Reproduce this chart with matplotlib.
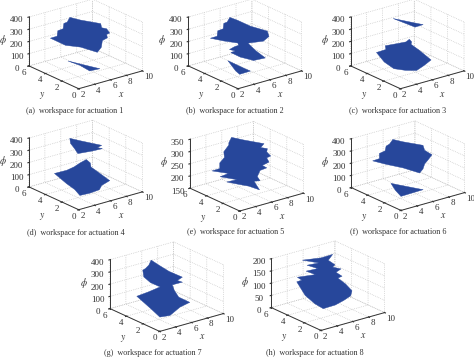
#!/usr/bin/env python3

import matplotlib
matplotlib.use('Agg')
import matplotlib.pyplot as plt
from mpl_toolkits.mplot3d.art3d import Poly3DCollection

# workspace outlines: x, y, phi per vertex
a_top_x = [4.99, 6.34, 8.87, 8.99, 9.62, 10.0, 9.62, 9.71, 9.08, 8.95, 8.45, 6.34, 4.45, 2.55, 3.39, 3.48, 4.15, 4.24, 4.66]
a_top_y = [4] * 19
a_top_phi = [409, 362, 287, 251, 231, 189, 185, 155, 145, 92, 60, 141, 190, 283, 284, 327, 331, 373, 376]
a_low_x = [2.16, 6.16, 4.89, 3.63]
a_low_y = [1.5] * 4
a_low_phi = [181, 45, 50, 120]

b_top_x = [5.08, 6.0, 7.69, 9.79, 10.0, 9.29, 7.35, 7.24, 8.50, 7.03, 5.34, 4.17, 4.71, 4.0, 4.59, 5.13, 6.09, 4.32, 2.64, 3.48, 3.56, 4.24, 4.32, 4.74]
b_top_y = [4, 4, 4, 4, 4, 4, 4, 3, 3, 3, 3, 3, 3, 3, 3, 3, 4, 4, 4, 4, 4, 4, 4, 4]
b_top_phi = [407, 368, 287, 209, 161, 136, 155, 129, 44, 50, 109, 167, 170, 195, 206, 209, 179, 228, 281, 282, 325, 329, 372, 375]
b_low_x = [2.24, 4.35, 5.06, 3.71, 3.21]
b_low_y = [1.5] * 5
b_low_phi = [182, 79, 46, 44, 81]

c_top_x = [6.25, 10.0, 8.99]
c_top_y = [5] * 3
c_top_phi = [345, 227, 225]
c_low_x = [2.06, 3.24, 3.16, 4.71, 5.77, 6.19, 6.48, 6.40, 7.45, 8.92, 7.0, 6.06, 4.68, 3.2, 3.03]
c_low_y = [3, 3, 3, 3, 3, 3, 3, 3, 3, 3, 2, 2, 2, 2, 3]
c_low_phi = [206, 209, 241, 231, 225, 239, 212, 194, 125, 20, 41, 17, 43, 84, 111]

d_top_x = [4.99, 6.34, 8.99, 8.45, 9.08, 7.81, 6.0, 5.58, 5.08]
d_top_y = [4] * 9
d_top_phi = [409, 364, 279, 270, 250, 254, 266, 315, 366]
d_low_x = [2.02, 3.58, 4.5, 5.26, 6.02, 6.52, 6.61, 7.79, 8.96, 6.91, 6.61, 5.43, 4.17, 3.54, 2.49]
d_low_y = [3, 3, 3, 3, 3, 3, 3, 3, 3, 2, 2, 2, 2, 2, 2]
d_low_phi = [207, 205, 216, 235, 248, 211, 176, 99, 22, 51, 21, 15, 19, 78, 147]

e_top_x = [5.08, 6.63, 9.16, 8.74, 9.58, 9.5, 10.0, 9.5, 9.79, 8.95, 9.5, 8.66, 8.32, 8.66, 7.9, 7.03, 6.19, 4.92, 3.45, 4.71, 2.61, 3.66, 2.64, 3.6, 3.6, 4.19, 4.11, 4.74, 4.74]
e_top_y = [4, 4, 4, 4, 4, 4, 4, 4, 4, 4, 4, 4, 4, 4, 4, 2.5, 3, 3, 3, 3, 3, 3, 4, 4, 4, 4, 4, 4, 4]
e_top_phi = [363, 338, 300, 288, 276, 263, 242, 239, 219, 213, 198, 195, 173, 153, 158, 154, 169, 188, 211, 209, 240, 244, 248, 249, 272, 289, 313, 335, 344]

f_top_x = [5.08, 6.34, 8.87, 9.08, 10.0, 9.5, 9.08, 8.87, 8.45, 6.34, 4.24, 2.55, 3.39, 3.39, 4.11, 4.24, 4.66]
f_top_y = [4] * 17
f_top_phi = [404, 362, 287, 242, 189, 156, 131, 94, 68, 149, 216, 275, 278, 320, 329, 365, 374]
f_low_x = [2.24, 6.28, 3.5, 2.79]
f_low_y = [1.5] * 4
f_low_phi = [174, 49, 45, 108]

g_top_x = [5.03, 6.0, 7.27, 8.95, 8.32, 8.95, 7.69, 6.9, 7.45, 8.84, 6.57, 5.31, 4.04, 2.99, 2.19, 3.66, 5.13, 4.95, 4.11, 3.98, 4.32, 4.74]
g_top_y = [4, 4, 4, 4, 4, 4, 4, 3, 3, 3, 2, 2, 2, 2, 3, 3, 3, 4, 4, 4, 4, 4]
g_top_phi = [408, 349, 275, 197, 181, 156, 157, 157, 92, 24, 57, 12, 22, 105, 195, 204, 218, 225, 287, 345, 352, 372]

h_top_x = [4.82, 7.14, 8.61, 8.06, 8.90, 8.61, 9.66, 9.03, 9.79, 8.23, 9.2, 10.0, 9.83, 7.91, 6.86, 4.3, 3.24, 3.07, 2.02, 2.65, 2.10, 5.41, 4.24, 5.71, 4.36, 5.83]
h_top_y = [5, 5, 5, 5, 5, 5, 5, 5, 5, 4, 4, 4, 4, 3, 3, 2, 2, 3, 3, 3, 3, 4, 4, 4, 4, 4]
h_top_phi = [186, 174, 175, 156, 130, 123, 106, 98, 75, 97, 64, 29, 10, 24, 15, 39, 69, 89, 154, 155, 172, 137, 162, 159, 185, 181]

x_ticks = [2, 4, 6, 8, 10]
y_ticks = [0, 2, 4, 6]
phi_ticks = [0, 100, 200, 300, 400]
phi_ticks_e = [150, 200, 250, 300, 350]
phi_ticks_h = [0, 50, 100, 150, 200]

captions = ['(a)  workspace for actuation 1', '(b)  workspace for actuation 2',
            '(c)  workspace for actuation 3', '(d)  workspace for actuation 4',
            '(e)  workspace for actuation 5', '(f)  workspace for actuation 6',
            '(g)  workspace for actuation 7', '(h)  workspace for actuation 8']

# front corner of each box and caption centre, in figure pixels from top left
corners = [(80, 89), (239.3, 89), (401.7, 89), (80, 210),
           (241, 211.3), (402.3, 210.7), (161, 331.7), (322.3, 330.7)]
caption_pos = [(75, 110.7), (235.3, 110.7), (398, 110.7), (76, 232.7),
               (235.7, 232.3), (398, 232.5), (153.3, 353.3), (314.7, 353.3)]

FIG_W, FIG_H = 474, 358
AX_SIZE = 122
BLUE = '#27479b'
TEXT = '#333333'

plt.rcParams['font.family'] = ['Liberation Serif', 'DejaVu Serif']
plt.rcParams['font.size'] = 6.5
plt.rcParams['mathtext.fontset'] = 'stix'
plt.rcParams['grid.color'] = '#bdbdbd'
plt.rcParams['grid.linestyle'] = ':'
plt.rcParams['grid.linewidth'] = 0.5
plt.rcParams['axes.edgecolor'] = '#333333'
plt.rcParams['axes.linewidth'] = 0.7
plt.rcParams['xtick.color'] = TEXT
plt.rcParams['ytick.color'] = TEXT


def draw_panel(fig, corner, shapes, phi_ticks_here):
    left = (corner[0] - 57) / FIG_W
    top = (corner[1] - 104.4) / FIG_H
    ax = fig.add_axes([left, 1 - top - AX_SIZE / FIG_H, AX_SIZE / FIG_W, AX_SIZE / FIG_H],
                      projection='3d', proj_type='ortho')
    ax.patch.set_alpha(0)
    ax.set_box_aspect((81, 81, 52.5))
    ax.view_init(elev=21, azim=-128)
    for x, y, phi in shapes:
        poly = Poly3DCollection([list(zip(x, y, phi))], facecolor=BLUE, edgecolor=BLUE, linewidth=0.3)
        ax.add_collection3d(poly)
    ax.set_xlim(x_ticks[0], x_ticks[-1])
    ax.set_ylim(y_ticks[0], y_ticks[-1])
    ax.set_zlim(phi_ticks_here[0], phi_ticks_here[-1])
    ax.set_xticks(x_ticks)
    ax.set_yticks(y_ticks)
    ax.set_zticks(phi_ticks_here)
    for axis in (ax.xaxis, ax.yaxis, ax.zaxis):
        axis.set_pane_color((1, 1, 1, 0))
        axis.pane.set_edgecolor((1, 1, 1, 0))
        axis.label.set_visible(False)
        axis.offsetText.set_visible(False)
    ax.tick_params(axis='x', pad=-6.5, labelsize=6.5)
    ax.tick_params(axis='y', pad=-6, labelsize=6.5)
    ax.tick_params(axis='z', pad=-3, labelsize=6.5)
    for label in ax.get_xticklabels():
        label.set_ha('left')
    for label in ax.get_yticklabels():
        label.set_ha('right')
    # axis names sit outside the box, mplot3d puts them badly with tight pads
    ax.text2D(0.803, 0.103, '$x$', transform=ax.transAxes, fontsize=7, color=TEXT, ha='center', va='center')
    ax.text2D(0.156, 0.087, '$y$', transform=ax.transAxes, fontsize=7, color=TEXT, ha='center', va='center')
    ax.text2D(-0.164, 0.546, r'$\phi$', transform=ax.transAxes, fontsize=7, color=TEXT, ha='center', va='center')
    return ax


fig = plt.figure(figsize=(FIG_W / 100, FIG_H / 100), dpi=100)

panels = [
    ([(a_top_x, a_top_y, a_top_phi), (a_low_x, a_low_y, a_low_phi)], phi_ticks),
    ([(b_top_x, b_top_y, b_top_phi), (b_low_x, b_low_y, b_low_phi)], phi_ticks),
    ([(c_top_x, c_top_y, c_top_phi), (c_low_x, c_low_y, c_low_phi)], phi_ticks),
    ([(d_top_x, d_top_y, d_top_phi), (d_low_x, d_low_y, d_low_phi)], phi_ticks),
    ([(e_top_x, e_top_y, e_top_phi)], phi_ticks_e),
    ([(f_top_x, f_top_y, f_top_phi), (f_low_x, f_low_y, f_low_phi)], phi_ticks),
    ([(g_top_x, g_top_y, g_top_phi)], phi_ticks),
    ([(h_top_x, h_top_y, h_top_phi)], phi_ticks_h),
]

for corner, (shapes, ticks) in zip(corners, panels):
    draw_panel(fig, corner, shapes, ticks)

for (cx, cy), caption in zip(caption_pos, captions):
    fig.text(cx / FIG_W, 1 - cy / FIG_H, caption, ha='center', va='center', fontsize=5.9, color=TEXT)

fig.savefig('out.png', dpi=100)
